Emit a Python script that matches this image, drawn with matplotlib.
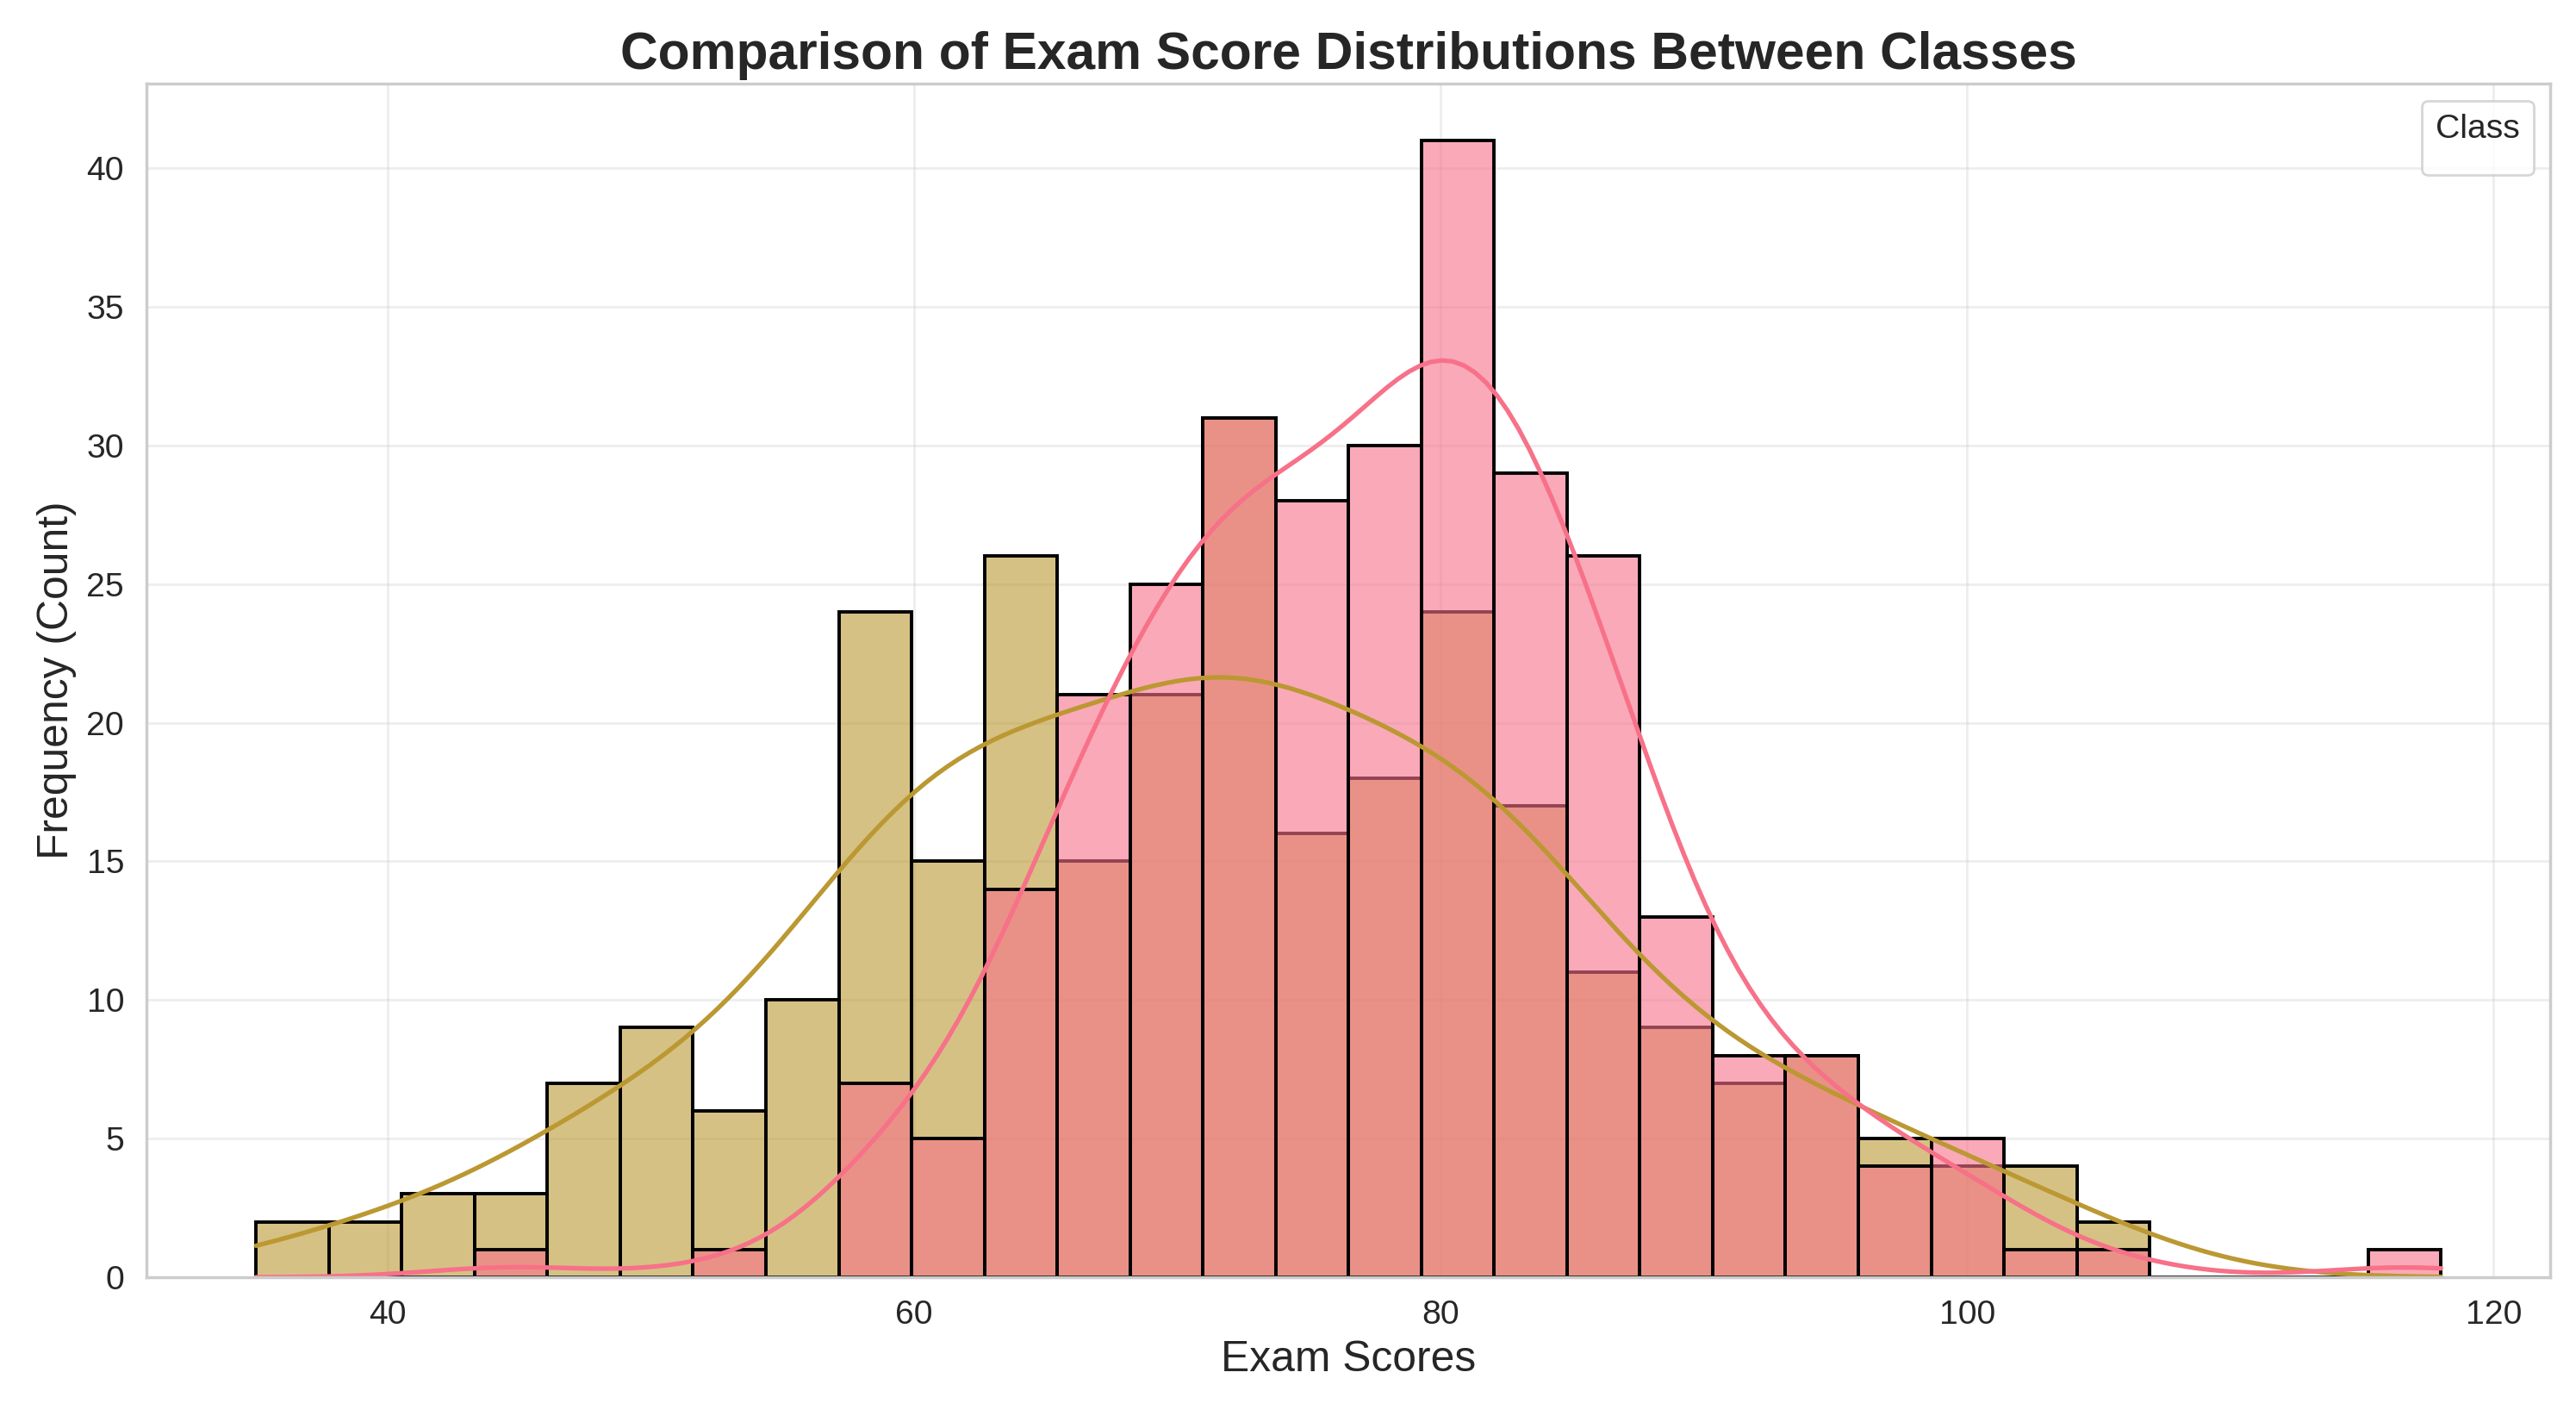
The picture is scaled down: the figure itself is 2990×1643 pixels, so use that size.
import numpy as np
import pandas as pd
import matplotlib
matplotlib.use("Agg")
import matplotlib.pyplot as plt
import seaborn as sns

# exam score histograms for two classes, 30 bins from 35 to 118
SCORE_MIN = 35.0
SCORE_MAX = 118.0
N_BINS = 30

# counts per bin (left to right)
CLASS_A = [0, 0, 0, 1, 0, 0, 1, 0, 7, 5, 14, 21, 25, 31, 28,
           30, 41, 29, 26, 13, 8, 8, 4, 5, 1, 1, 0, 0, 0, 1]
CLASS_B = [2, 2, 3, 3, 7, 9, 6, 10, 24, 15, 26, 15, 21, 31, 16,
           18, 24, 17, 11, 9, 7, 8, 5, 4, 4, 2, 0, 0, 0, 0]
CLASS_NAMES = ["Class A", "Class B"]

sns.set_theme(style="whitegrid")
sns.set_palette("husl")
plt.rcParams["font.family"] = ["Liberation Sans", "DejaVu Sans"]

edges = np.linspace(SCORE_MIN, SCORE_MAX, N_BINS + 1)
centers = (edges[:-1] + edges[1:]) / 2

# expand the bin counts back into one row per student
frames = []
for name, counts in zip(CLASS_NAMES, [CLASS_A, CLASS_B]):
    frames.append(pd.DataFrame({"score": np.repeat(centers, counts), "class": name}))
df = pd.concat(frames, ignore_index=True)

fig = plt.figure(figsize=(14.95, 8.215), dpi=200)
ax = fig.add_axes([0.057, 0.098, 0.933, 0.843])

# kde drawn over the whole score range like the original
sns.histplot(data=df, x="score", hue="class", hue_order=CLASS_NAMES,
             bins=edges, kde=True, alpha=0.6, edgecolor="black",
             linewidth=1.4, line_kws={"linewidth": 1.9},
             kde_kws={"cut": 3, "clip": (SCORE_MIN, SCORE_MAX)}, ax=ax)

ax.set_title("Comparison of Exam Score Distributions Between Classes",
             fontsize=21.8, fontweight="bold", color="#262626")
ax.set_xlabel("Exam Scores", fontsize=17.9)
ax.set_ylabel("Frequency (Count)", fontsize=17.9)
ax.tick_params(labelsize=14.1)
ax.grid(True, alpha=0.35)
ax.set_xticks([40, 60, 80, 100, 120])

# the legend ends up with only its title
old = ax.get_legend()
if old is not None:
    old.remove()
ax.legend(handles=[], title="Class", loc="upper right",
          fontsize=14.1, title_fontsize=14.1)

fig.savefig("out.png", dpi=200)
print("saved out.png")
